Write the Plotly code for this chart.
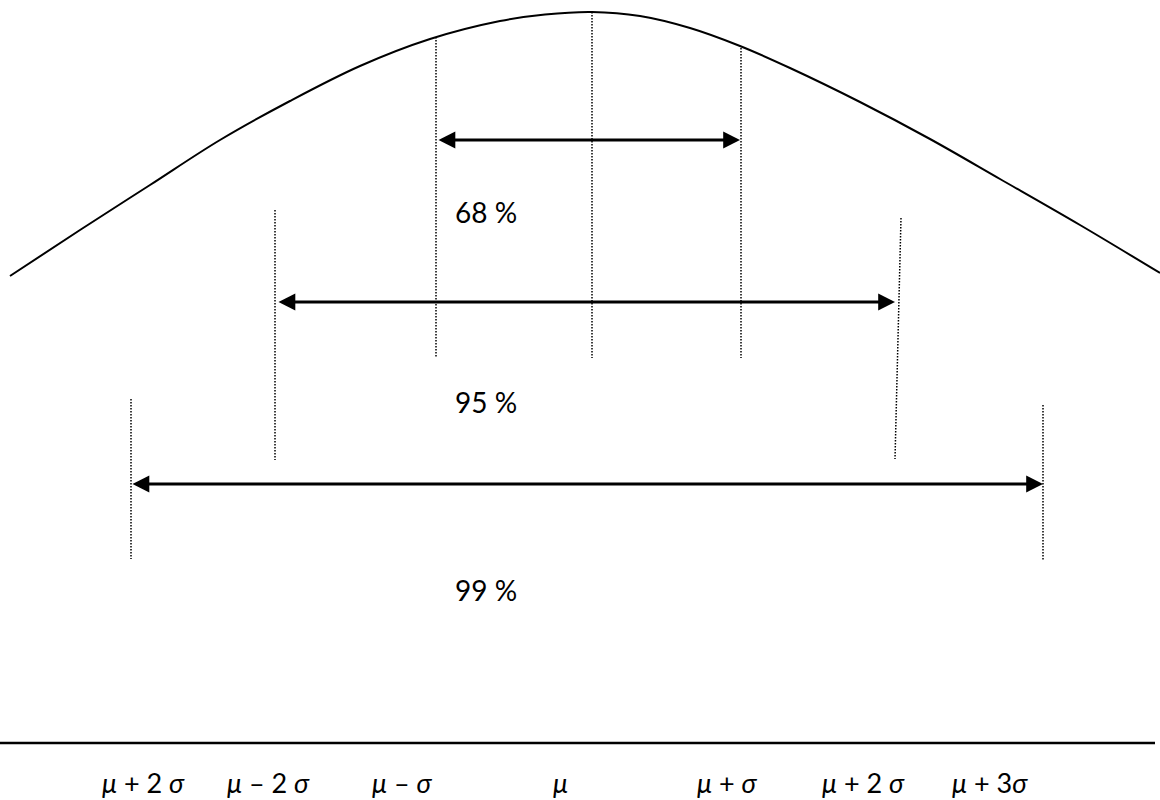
import plotly.graph_objects as go

# Bell curve outline (horizontal position, height from top)
curve_x = [10, 80, 150, 220, 290, 360, 430, 500, 545, 592, 640, 690, 740, 790, 860, 930, 1000, 1080, 1160]
curve_y = [276, 230, 185, 140, 101, 66, 39, 21, 14.5, 12, 16, 28, 46, 68, 102, 139, 179, 225, 273]

# Dotted reference lines (one entry per line)
ref_x_top = [436, 592, 741, 275, 901, 131, 1043]
ref_x_bottom = [436, 592, 741, 275, 895, 131, 1043]
ref_y_top = [37, 12, 48, 210, 218, 399, 405]
ref_y_bottom = [358, 358, 358, 460, 459, 559, 560]

# Interval arrows and their labels
interval_left = [437, 277, 131]
interval_right = [740, 895, 1043]
interval_y = [140, 302, 484]
interval_labels = ["68 %", "95 %", "99 %"]
label_x = [453, 453, 453]
label_y = [212, 402, 590]

# Baseline and its labels
baseline_x = [0, 1155]
baseline_y = [743, 743]
bottom_labels = [
    "<i>μ</i> + 2 <i>σ</i>",
    "<i>μ</i> – 2 <i>σ</i>",
    "<i>μ</i> – <i>σ</i>",
    "<i>μ</i>",
    "<i>μ</i> + <i>σ</i>",
    "<i>μ</i> + 2 <i>σ</i>",
    "<i>μ</i> + 3<i>σ</i>",
]
bottom_x = [143, 268, 402, 560, 727, 863, 990]
bottom_y = 782

FONT = "Lato"

fig = go.Figure()

fig.add_trace(go.Scatter(
    x=curve_x, y=curve_y, mode="lines",
    line=dict(color="black", width=2, shape="spline", smoothing=1.0),
    hoverinfo="skip",
))

dx, dy = [], []
for xt, xb, yt, yb in zip(ref_x_top, ref_x_bottom, ref_y_top, ref_y_bottom):
    dx += [xt, xb, None]
    dy += [yt, yb, None]
fig.add_trace(go.Scatter(
    x=dx, y=dy, mode="lines",
    line=dict(color="black", width=1.5, dash="1.5px,1.5px"),
    hoverinfo="skip",
))

fig.add_trace(go.Scatter(
    x=baseline_x, y=baseline_y, mode="lines",
    line=dict(color="black", width=2.5),
    hoverinfo="skip",
))

annotations = []
for xl, xr, y in zip(interval_left, interval_right, interval_y):
    annotations.append(dict(
        x=xr, y=y, ax=xl, ay=y, xref="x", yref="y", axref="x", ayref="y",
        text="", showarrow=True, arrowhead=2, startarrowhead=2,
        arrowside="end+start", arrowwidth=2.8, arrowsize=1.2, startarrowsize=1.2,
        arrowcolor="black",
    ))
for t, x, y in zip(interval_labels, label_x, label_y):
    annotations.append(dict(
        x=x, y=y, xref="x", yref="y", text=t, showarrow=False,
        xanchor="left", yanchor="middle",
        font=dict(family=FONT, size=28, color="black"),
    ))
for t, x in zip(bottom_labels, bottom_x):
    annotations.append(dict(
        x=x, y=bottom_y, xref="x", yref="y", text=t, showarrow=False,
        xanchor="center", yanchor="middle",
        font=dict(family=FONT, size=27, color="black"),
    ))

fig.update_layout(
    width=1160, height=800,
    margin=dict(l=0, r=0, t=0, b=0),
    paper_bgcolor="white", plot_bgcolor="white",
    showlegend=False,
    xaxis=dict(range=[0, 1160], visible=False, fixedrange=True),
    yaxis=dict(range=[800, 0], visible=False, fixedrange=True),
    annotations=annotations,
)

fig.write_html(
    "out.html",
    config={"displayModeBar": False},
    post_script="document.body.style.margin='0';",
)
